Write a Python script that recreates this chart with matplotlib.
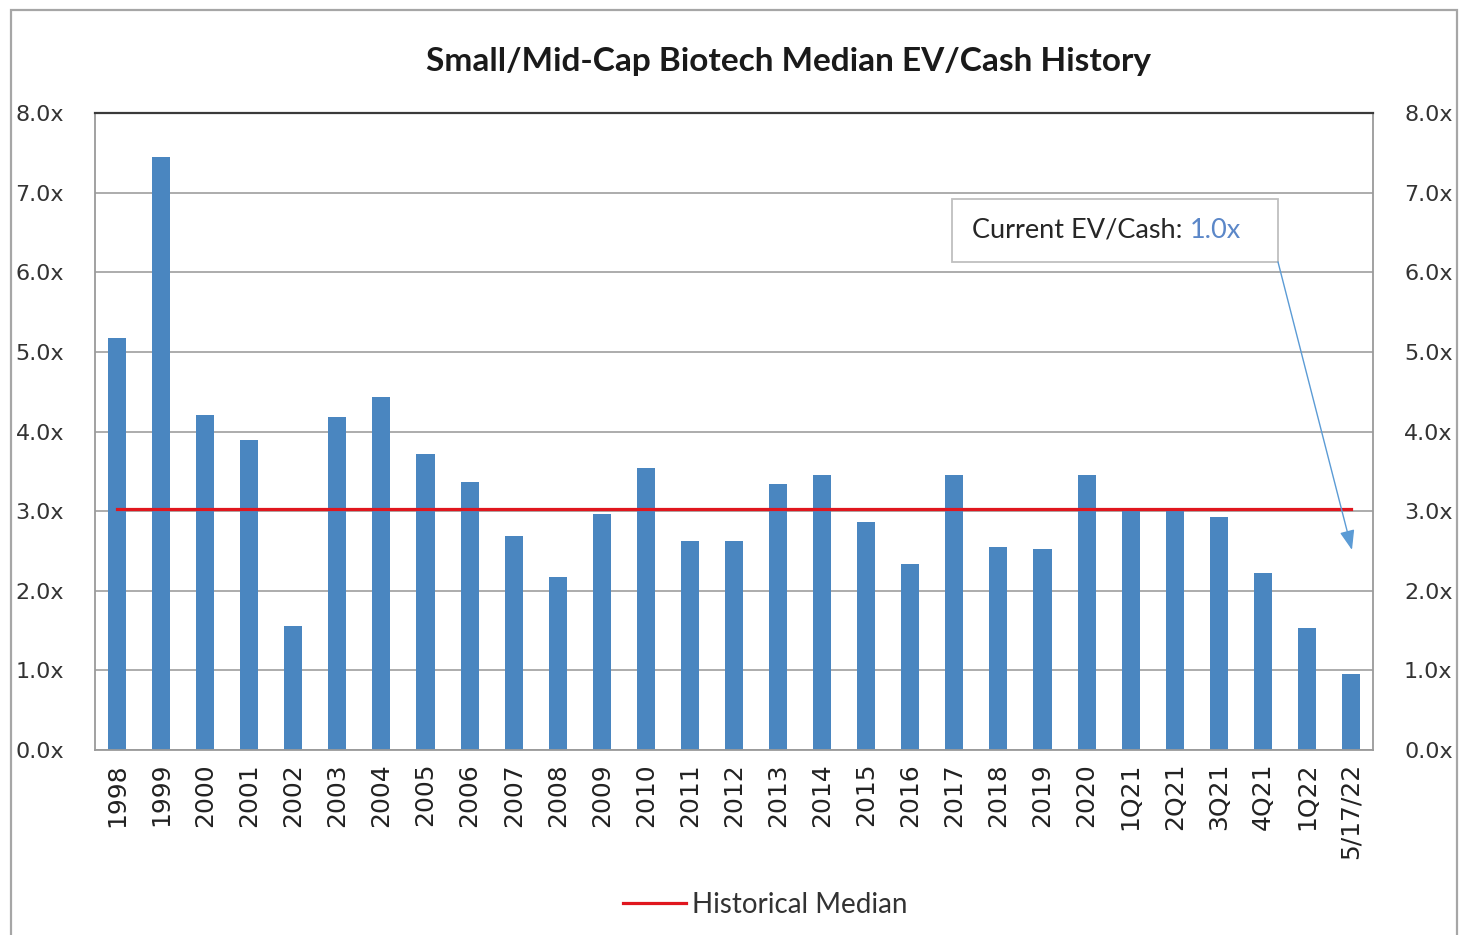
import matplotlib
matplotlib.use("Agg")
import matplotlib.pyplot as plt
from matplotlib.patches import Rectangle
from matplotlib.ticker import FuncFormatter, MultipleLocator

categories = ["1998", "1999", "2000", "2001", "2002", "2003", "2004", "2005", "2006",
              "2007", "2008", "2009", "2010", "2011", "2012", "2013", "2014", "2015",
              "2016", "2017", "2018", "2019", "2020", "1Q21", "2Q21", "3Q21", "4Q21",
              "1Q22", "5/17/22"]
ev_cash = [5.18, 7.45, 4.21, 3.89, 1.56, 4.18, 4.43, 3.72, 3.37, 2.69, 2.17, 2.96,
           3.54, 2.63, 2.63, 3.34, 3.45, 2.86, 2.34, 3.45, 2.55, 2.52, 3.45, 3.03,
           3.03, 2.93, 2.22, 1.53, 0.95]
historical_median = 3.03
title = "Small/Mid-Cap Biotech Median EV/Cash History"
legend_label = "Historical Median"
callout_text = "Current EV/Cash: "
callout_value = "1.0x"

plt.rcParams['font.family'] = ['Lato', 'DejaVu Sans']

W, H = 1463, 935
PX = 72 / 100  # points per pixel
fig = plt.figure(figsize=(W / 100, H / 100), dpi=100)
ax = fig.add_axes([95 / W, 1 - 750 / H, (1373 - 95) / W, (750 - 113) / H])

x = list(range(len(categories)))
ax.bar(x, ev_cash, width=0.41, color="#4A86C0", zorder=2)
line, = ax.plot([x[0], x[-1]], [historical_median, historical_median],
                color="#E0161E", lw=2.3, zorder=3, label=legend_label)

ax.set_xlim(-0.5, len(categories) - 0.5)
ax.set_ylim(0, 8)
ax.yaxis.set_major_locator(MultipleLocator(1))
ax.yaxis.set_major_formatter(FuncFormatter(lambda v, p: f"{v:.1f}x"))
ax.set_xticks(x)
ax.set_xticklabels(categories, rotation=90, fontsize=18, color="#222222",
                   family='DejaVu Sans')
ax.tick_params(axis='x', length=0, pad=13 * PX)
ax.tick_params(axis='y', length=0, pad=31 * PX, labelsize=16, labelcolor="#333333",
               labelright=True)
for lab in ax.yaxis.get_ticklabels() + [t.label2 for t in ax.yaxis.get_major_ticks()]:
    lab.set_family('DejaVu Sans')
ax.grid(axis='y', color="#A6A6A6", lw=1.3, zorder=0)
ax.set_axisbelow(True)
for s in ['left', 'right', 'bottom']:
    ax.spines[s].set_color("#9A9A9A")
    ax.spines[s].set_linewidth(1.3)
ax.spines['top'].set_color("#3A3A3A")
ax.spines['top'].set_linewidth(1.6)

# title
fig.text(789 / W, 1 - 62 / H, title, ha='center', va='center',
         fontsize=24, fontweight='bold', color="#1A1A1A")

# callout box
bx0, bx1 = (952 - 95) / 44.07 - 0.5, (1278 - 95) / 44.07 - 0.5
by0, by1 = (750 - 262) / 79.6, (750 - 199) / 79.6
ax.add_patch(Rectangle((bx0, by0), bx1 - bx0, by1 - by0, facecolor="white",
                       edgecolor="#BFBFBF", lw=1.3, zorder=4))
t = ax.text((972 - 95) / 44.07 - 0.5, (by0 + by1) / 2, callout_text, ha='left',
            va='center', fontsize=19.5, color="#262626", zorder=5)
ax.annotate(callout_value, xy=(1, 0), xycoords=t, ha='left', va='bottom',
            fontsize=19.5, color="#5B87C8", zorder=5)
ax.annotate("", xy=((1352 - 95) / 44.07 - 0.5, (750 - 550) / 79.6),
            xytext=(bx1, by0),
            arrowprops=dict(arrowstyle="-|>,head_length=1.2,head_width=0.45",
                            color="#5B9BD5", lw=1.0, shrinkA=0, shrinkB=0),
            zorder=5)

# legend
leg = fig.legend(handles=[line], loc='center', bbox_to_anchor=(765 / W, 1 - 905 / H),
                 frameon=False, fontsize=20, handlelength=2.3, handletextpad=0.2)
for txt in leg.get_texts():
    txt.set_color("#333333")

# outer frame
fig.patches.append(Rectangle((11 / W, -0.02), (1457 - 11) / W, 1 - 10 / H + 0.02,
                             transform=fig.transFigure, fill=False,
                             edgecolor="#A6A6A6", lw=1.6))

fig.savefig("out.png", dpi=100)
